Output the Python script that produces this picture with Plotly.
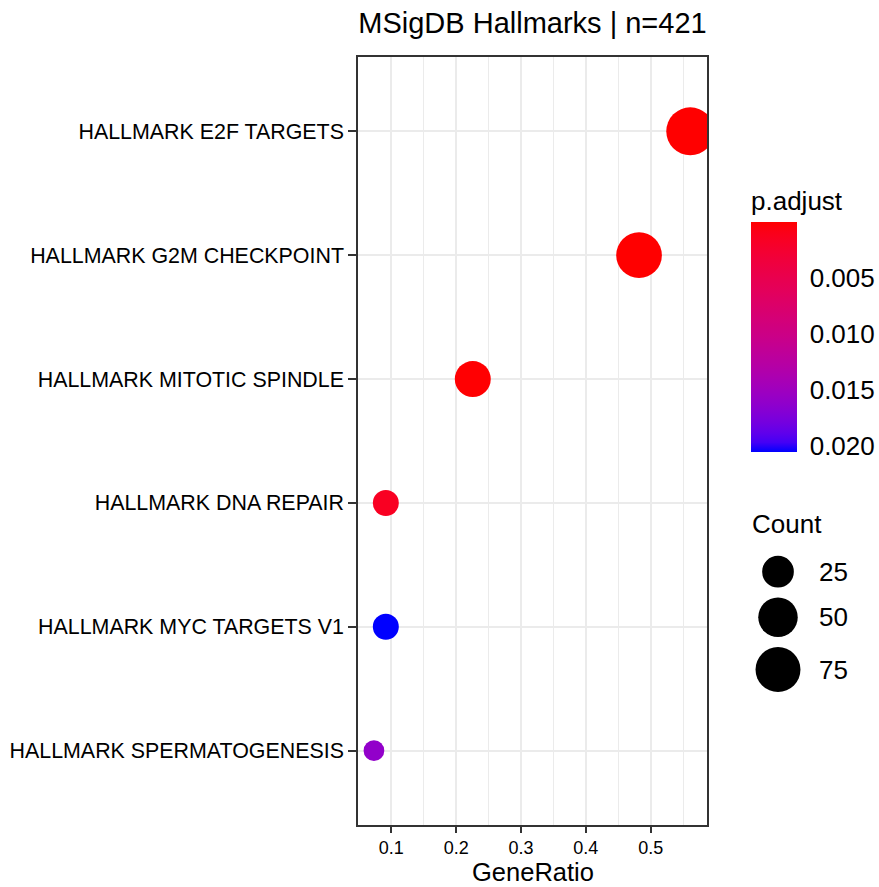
import plotly.graph_objects as go

# ---------------- data ----------------
terms = [
    "HALLMARK E2F TARGETS",
    "HALLMARK G2M CHECKPOINT",
    "HALLMARK MITOTIC SPINDLE",
    "HALLMARK DNA REPAIR",
    "HALLMARK MYC TARGETS V1",
    "HALLMARK SPERMATOGENESIS",
]
gene_ratio = [0.561, 0.482, 0.2256, 0.0915, 0.0915, 0.0732]
counts = [92, 79, 37, 15, 15, 12]
p_adjust = [2.1e-21, 3.5e-16, 6.8e-05, 0.0015, 0.0205, 0.0160]

x_ticks = [0.1, 0.2, 0.3, 0.4, 0.5]
x_tick_labels = ["0.1", "0.2", "0.3", "0.4", "0.5"]
cbar_ticks = [0.005, 0.010, 0.015, 0.020]
cbar_tick_labels = ["0.005", "0.010", "0.015", "0.020"]
size_breaks = [25, 50, 75]
title_text = "MSigDB Hallmarks | n=421"
x_title = "GeneRatio"

FONT = "Liberation Sans, Arial, Helvetica, sans-serif"

# ---------------- layout geometry (pixels) ----------------
W, H = 879, 887
PL, PR, PT, PB = 358, 707, 57, 825   # panel box
pw, ph = PR - PL, PB - PT


def px_x(px):
    return (px - PL) / pw


def px_y(py):
    return (PB - py) / ph


# ---------------- size scale (ggplot area palette) ----------------
D_MIN, D_MAX = 20.7, 48.0
cmin_n, cmax_n = min(counts), max(counts)


def size_of(c):
    t = (c - cmin_n) / (cmax_n - cmin_n)
    t = max(t, 0.0)
    return D_MIN + (D_MAX - D_MIN) * t ** 0.5


# ---------------- colour scale: red -> blue interpolated in CIELAB ----------------
def _lin(c):
    c = c / 255.0
    return c / 12.92 if c <= 0.04045 else ((c + 0.055) / 1.055) ** 2.4


def _gam(c):
    c = 12.92 * c if c <= 0.0031308 else 1.055 * c ** (1 / 2.4) - 0.055
    return max(0, min(255, round(c * 255)))


WX, WY, WZ = 0.95047, 1.0, 1.08883


def rgb2lab(rgb):
    r, g, b = (_lin(v) for v in rgb)
    X = 0.4124 * r + 0.3576 * g + 0.1805 * b
    Y = 0.2126 * r + 0.7152 * g + 0.0722 * b
    Z = 0.0193 * r + 0.1192 * g + 0.9505 * b

    def f(t):
        return t ** (1 / 3) if t > 216 / 24389 else (24389 / 27 * t + 16) / 116

    fx, fy, fz = f(X / WX), f(Y / WY), f(Z / WZ)
    return (116 * fy - 16, 500 * (fx - fy), 200 * (fy - fz))


def lab2rgb(lab):
    L, a, b = lab
    fy = (L + 16) / 116
    fx = fy + a / 500
    fz = fy - b / 200

    def finv(t):
        return t ** 3 if t ** 3 > 216 / 24389 else (116 * t - 16) / (24389 / 27)

    X, Y, Z = WX * finv(fx), WY * finv(fy), WZ * finv(fz)
    r = 3.2406 * X - 1.5372 * Y - 0.4986 * Z
    g = -0.9689 * X + 1.8758 * Y + 0.0415 * Z
    bb = 0.0557 * X - 0.2040 * Y + 1.0570 * Z
    return (_gam(max(r, 0)), _gam(max(g, 0)), _gam(max(bb, 0)))


LOW, HIGH = rgb2lab((255, 0, 0)), rgb2lab((0, 0, 255))
N_STOPS = 24
colorscale = []
for i in range(N_STOPS + 1):
    s = i / N_STOPS          # 0 = high p (blue, bottom) ... 1 = low p (red, top)
    t = 1 - s
    lab = tuple(LOW[k] + (HIGH[k] - LOW[k]) * t for k in range(3))
    r, g, b = lab2rgb(lab)
    colorscale.append([s, f"rgb({r},{g},{b})"])

# colour value: negated p so that small p sits at the top of the bar
neg_p = [-v for v in p_adjust]
c_lo, c_hi = -max(p_adjust), -min(p_adjust)

# colorbar geometry
CB_L, CB_T, CB_B, CB_TH = 751, 222, 452, 46
CB_TITLE_H = 35
cb_len = CB_B - CB_T

fig = go.Figure()

fig.add_trace(go.Scatter(
    x=gene_ratio,
    y=terms,
    mode="markers",
    marker=dict(
        size=[size_of(c) for c in counts],
        color=neg_p,
        colorscale=colorscale,
        cmin=c_lo,
        cmax=c_hi,
        line=dict(width=0),
        opacity=1,
        colorbar=dict(
            title=dict(text="p.adjust", side="top",
                       font=dict(family=FONT, size=26, color="black")),
            thickness=CB_TH,
            thicknessmode="pixels",
            len=cb_len + CB_TITLE_H,
            lenmode="pixels",
            x=px_x(CB_L),
            xanchor="left",
            xpad=0,
            ypad=0,
            y=px_y(CB_B),
            yanchor="bottom",
            yref="paper",
            xref="paper",
            outlinewidth=0,
            tickmode="array",
            tickvals=[-v for v in cbar_ticks],
            ticktext=cbar_tick_labels,
            ticks="outside",
            ticklen=8,
            tickwidth=1,
            tickcolor="rgba(0,0,0,0)",
            tickfont=dict(family=FONT, size=26, color="black"),
        ),
    ),
    hovertemplate="%{y}<br>GeneRatio=%{x}<extra></extra>",
    showlegend=False,
    cliponaxis=True,
))

shapes = []
# white ticks on both sides of the colourbar
for v in cbar_ticks:
    yy = CB_B - ((-v) - c_lo) / (c_hi - c_lo) * cb_len
    for xa, xb in ((CB_L, CB_L + 9), (CB_L + CB_TH - 9, CB_L + CB_TH)):
        shapes.append(dict(type="line", xref="paper", yref="paper",
                           x0=px_x(xa), x1=px_x(xb),
                           y0=px_y(yy), y1=px_y(yy),
                           line=dict(color="white", width=1.5), layer="above"))

# size legend (keys stacked, each key height = symbol size + padding)
LEG_X = 778
LEG_TOP = 571.7 - (size_of(size_breaks[0]) + 10) / 2
annotations = []
cur = LEG_TOP
for b in size_breaks:
    d = size_of(b)
    kh = d + 10
    cy = cur + kh / 2
    cur += kh
    shapes.append(dict(type="circle", xref="paper", yref="paper",
                       xsizemode="pixel", ysizemode="pixel",
                       xanchor=px_x(LEG_X), yanchor=px_y(cy),
                       x0=-d / 2, x1=d / 2, y0=-d / 2, y1=d / 2,
                       fillcolor="black", line=dict(width=0), layer="above"))
    annotations.append(dict(text=str(b), xref="paper", yref="paper",
                            x=px_x(817), y=px_y(cy), xanchor="left", yanchor="middle",
                            showarrow=False,
                            font=dict(family=FONT, size=26, color="black")))

annotations.append(dict(text="Count", xref="paper", yref="paper",
                        x=px_x(750), y=px_y(524), xanchor="left", yanchor="middle",
                        showarrow=False,
                        font=dict(family=FONT, size=26, color="black")))

# x-axis title, its box ending at the bottom edge of the page
annotations.append(dict(text=x_title, xref="paper", yref="paper",
                        x=0.5, y=px_y(H), xanchor="center", yanchor="bottom",
                        borderpad=0, showarrow=False,
                        font=dict(family=FONT, size=25.5, color="black")))

fig.update_layout(
    width=W, height=H,
    margin=dict(l=PL, r=W - PR, t=PT, b=H - PB, pad=0, autoexpand=False),
    paper_bgcolor="white",
    plot_bgcolor="white",
    font=dict(family=FONT, color="black"),
    title=dict(text=title_text, x=0.5, xref="paper", xanchor="center",
               y=1 - 23 / H, yref="container", yanchor="middle",
               font=dict(family=FONT, size=29, color="black")),
    shapes=shapes,
    annotations=annotations,
    xaxis=dict(
        range=[0.0486, 0.5868],
        tickmode="array",
        tickvals=x_ticks,
        ticktext=x_tick_labels,
        ticks="outside",
        ticklen=6,
        tickwidth=2,
        tickcolor="#333333",
        tickfont=dict(family=FONT, size=18, color="black"),
        showgrid=True,
        gridcolor="#EBEBEB",
        gridwidth=2,
        minor=dict(tickmode="linear", tick0=0.05, dtick=0.1, showgrid=True,
                   gridcolor="#EBEBEB", gridwidth=1, ticks=""),
        zeroline=False,
        showline=True,
        mirror=True,
        linecolor="#333333",
        linewidth=1.5,
        automargin=False,
        fixedrange=True,
    ),
    yaxis=dict(
        type="category",
        categoryorder="array",
        categoryarray=terms,
        range=[len(terms) - 0.4, -0.6],
        ticks="outside",
        ticklen=8,
        tickwidth=2,
        tickcolor="#333333",
        tickfont=dict(family=FONT, size=21.4, color="black"),
        showgrid=True,
        gridcolor="#EBEBEB",
        gridwidth=2,
        zeroline=False,
        showline=True,
        mirror=True,
        linecolor="#333333",
        linewidth=1.5,
        automargin=False,
        fixedrange=True,
    ),
)

fig.write_html("out.html")
